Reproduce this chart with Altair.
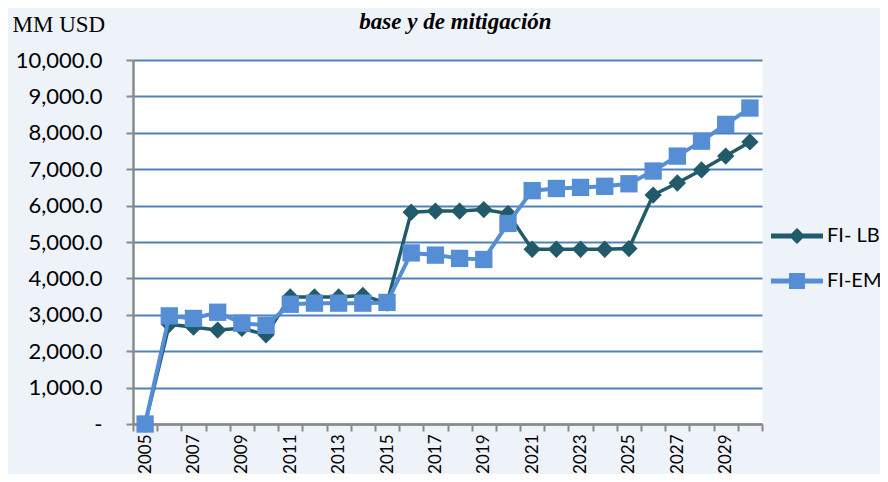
import altair as alt
import pandas as pd

years = list(range(2005, 2031))
fi_lb = [0, 2740, 2660, 2580, 2630, 2450, 3490, 3490, 3490, 3530, 3320,
         5820, 5850, 5850, 5890, 5780, 4800, 4800, 4800, 4800, 4820,
         6290, 6620, 6980, 7360, 7750]
fi_em = [0, 2970, 2900, 3070, 2770, 2710, 3290, 3320, 3320, 3320, 3340,
         4700, 4640, 4550, 4520, 5510, 6410, 6470, 6500, 6530, 6600,
         6950, 7360, 7770, 8230, 8680]
series_names = ["FI- LB", "FI-EM"]
y_ticks = list(range(0, 10001, 1000))

LB = "#215A68"
EM = "#558ED5"

rows = []
for i, yr in enumerate(years):
    rows.append({"year": yr, "series": series_names[0], "value": fi_lb[i]})
    rows.append({"year": yr, "series": series_names[1], "value": fi_em[i]})
df = pd.DataFrame(rows)

lb_path = ("M-2,-0.19 L-0.425,-0.19 L0,-0.615 L0.425,-0.19 L2,-0.19 L2,0.19 "
           "L0.425,0.19 L0,0.615 L-0.425,0.19 L-2,0.19 Z")
em_path = ("M-2,-0.19 L-0.615,-0.19 L-0.615,-0.615 L0.615,-0.615 L0.615,-0.19 "
           "L2,-0.19 L2,0.19 L0.615,0.19 L0.615,0.615 L-0.615,0.615 L-0.615,0.19 "
           "L-2,0.19 Z")

x_enc = alt.X(
    "year:O",
    scale=alt.Scale(type="band", paddingInner=0, paddingOuter=0),
    axis=alt.Axis(
        title=None, grid=False, labelAngle=270, tickBand="extent",
        labelExpr="datum.value % 2 == 1 ? datum.label : ''",
        labelFont="Lato", labelFontSize=17, labelColor="black", labelPadding=3,
        tickSize=7, tickWidth=2, tickColor="#8a8a8a",
        domainColor="#8a8a8a", domainWidth=2.5,
    ),
)
y_enc = alt.Y(
    "value:Q",
    scale=alt.Scale(domain=[0, 10000], nice=False),
    axis=alt.Axis(
        values=y_ticks,
        labelExpr="datum.value == 0 ? '-\u00a0\u00a0\u00a0' : format(datum.value, ',.1f')",
        labelFont="Lato", labelFontSize=22, labelColor="black", labelPadding=24,
        tickSize=7, tickWidth=2, tickColor="#8a8a8a",
        domainColor="#8a8a8a", domainWidth=2.5,
        grid=True, gridColor="#4F81BD", gridWidth=2,
        title="MM USD", titleAngle=0, titleX=-121, titleY=-29,
        titleAlign="left", titleBaseline="alphabetic",
        titleFont="Liberation Serif", titleFontSize=23,
        titleFontWeight="normal", titleColor="black",
    ),
)

base = alt.Chart(df)

lb_line = base.transform_filter(f"datum.series == '{series_names[0]}'").mark_line(
    color=LB, strokeWidth=3.5).encode(x=x_enc, y=y_enc)
lb_pts = base.transform_filter(f"datum.series == '{series_names[0]}'").mark_point(
    shape="diamond", filled=True, size=300, color=LB, opacity=1).encode(x=x_enc, y=y_enc)
em_line = base.transform_filter(f"datum.series == '{series_names[1]}'").mark_line(
    color=EM, strokeWidth=4).encode(x=x_enc, y=y_enc)
em_pts = base.transform_filter(f"datum.series == '{series_names[1]}'").mark_point(
    shape="square", filled=True, size=300, color=EM, opacity=1).encode(x=x_enc, y=y_enc)

leg = alt.Legend(
    title=None, orient="none", legendX=651, legendY=163,
    symbolSize=676, symbolStrokeWidth=0, symbolOpacity=1,
    labelFont="Lato", labelFontSize=20, labelColor="black",
    labelOffset=17, rowPadding=22, padding=0,
)
legend_layer = base.transform_filter("false").mark_point(
    filled=True, size=676, opacity=1, strokeWidth=0).encode(
    x=x_enc, y=y_enc,
    color=alt.Color("series:N", scale=alt.Scale(domain=series_names, range=[LB, EM]), legend=leg),
    shape=alt.Shape("series:N", scale=alt.Scale(domain=series_names, range=[lb_path, em_path]), legend=leg),
)

chart = alt.layer(lb_line, lb_pts, em_line, em_pts, legend_layer).properties(
    width=629, height=364,
    autosize=alt.AutoSizeParams(type="none"),
    padding={"left": 125, "top": 52, "right": 118, "bottom": 50},
    background="#EEF3FA",
    title=alt.TitleParams(
        text="base y de mitigación", font="Liberation Serif", fontSize=23,
        fontStyle="italic", fontWeight="bold", frame="group", offset=0,
        dy=21, dx=8, anchor="middle", color="black",
    ),
).configure_view(fill="white", stroke="transparent")

chart.save("out.html", embed_options={"renderer": "svg", "actions": False})
